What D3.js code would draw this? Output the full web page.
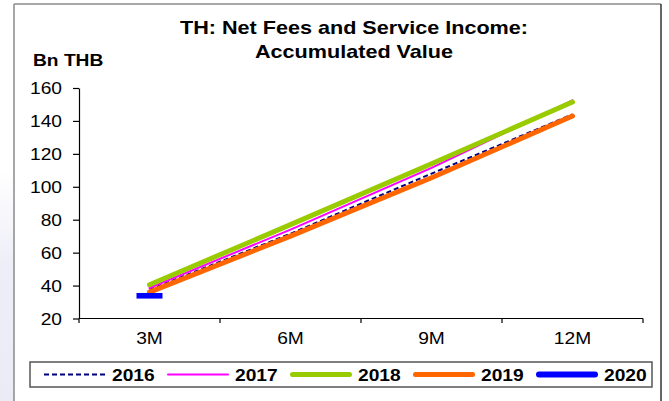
<!DOCTYPE html>
<html>
<head>
<meta charset="utf-8">
<script src="https://cdn.jsdelivr.net/npm/d3@7"></script>
<style>
  html, body { margin: 0; padding: 0; background: #fff; }
  svg { display: block; }
  text { font-family: "Liberation Sans", Arial, sans-serif; fill: #000; }
</style>
</head>
<body>
<svg id="chart" width="669" height="401"></svg>
<script>
// Accumulated net fees and service income (Bn THB) by quarter-end
const categories = ["3M", "6M", "9M", "12M"];
const years = ["2016", "2017", "2018", "2019", "2020"];
const v2016 = [37.5, 71.5, 108, 144];
const v2017 = [38.5, 74, 111.5, 152.5];
const v2018 = [40.5, 77, 114, 151.5];
const v2019 = [36, 70, 105.5, 143];
const v2020 = [33.8];
const yTicks = [20, 40, 60, 80, 100, 120, 140, 160];

const seriesValues = [v2016, v2017, v2018, v2019, v2020];
const seriesStyle = [
  { color: "#000080", width: 2,   dash: "5,3" },
  { color: "#FF00FF", width: 2,   dash: null },
  { color: "#99CC00", width: 5,   dash: null },
  { color: "#FF6600", width: 5,   dash: null },
  { color: "#0000FF", width: 6,   dash: null }
];

const SX = 1.2; // glyphs are drawn wide
const svg = d3.select("#chart");

// faint lavender backdrop at the far left
const defs = svg.append("defs");
const grad = defs.append("linearGradient").attr("id", "lav")
  .attr("x1", 0).attr("y1", 0).attr("x2", 0).attr("y2", 1);
grad.append("stop").attr("offset", "0%").attr("stop-color", "#eeeef8").attr("stop-opacity", 0);
grad.append("stop").attr("offset", "40%").attr("stop-color", "#eeeef8").attr("stop-opacity", 1);
grad.append("stop").attr("offset", "100%").attr("stop-color", "#ebebf6").attr("stop-opacity", 1);
svg.append("rect").attr("x", 0).attr("y", 170).attr("width", 14).attr("height", 231)
  .attr("fill", "url(#lav)");

// outer frame
svg.append("line").attr("x1", 14).attr("y1", 4).attr("x2", 661).attr("y2", 4)
  .attr("stroke", "#8a8a8a").attr("stroke-width", 1.5);
svg.append("line").attr("x1", 14).attr("y1", 4).attr("x2", 14).attr("y2", 401)
  .attr("stroke", "#8a8a8a").attr("stroke-width", 1.5);
svg.append("line").attr("x1", 661).attr("y1", 4).attr("x2", 661).attr("y2", 401)
  .attr("stroke", "#333").attr("stroke-width", 1.5);

function wideText(parent, x, y, str, size, weight, anchor) {
  return parent.append("text")
    .attr("transform", `translate(${x},${y}) scale(${SX},1)`)
    .attr("text-anchor", anchor || "start")
    .style("font-size", size + "px")
    .style("font-weight", weight || "normal")
    .text(str);
}

// titles
wideText(svg, 354, 34, "TH: Net Fees and Service Income:", 18, "bold", "middle");
wideText(svg, 354, 58, "Accumulated Value", 18, "bold", "middle");
wideText(svg, 33, 66, "Bn THB", 16, "bold", "start");

// scales
const x = d3.scaleBand().domain(categories).range([79, 643]).padding(0);
const y = d3.scaleLinear().domain([20, 160]).range([318.5, 88]);
const cx = c => x(c) + x.bandwidth() / 2;

// y axis
const gy = svg.append("g").attr("transform", "translate(79,0)")
  .call(d3.axisLeft(y).tickValues(yTicks).tickSize(6).tickSizeOuter(0).tickFormat(d3.format("d")));
gy.select(".domain").attr("stroke", "#000").attr("stroke-width", 1.2);
gy.selectAll(".tick line").attr("stroke", "#000").attr("stroke-width", 1.2);
gy.selectAll(".tick text")
  .attr("x", 0).attr("dy", "0.36em")
  .attr("transform", `translate(-17,0) scale(${SX},1)`)
  .attr("text-anchor", "end")
  .style("font-size", "16px")
  .style("font-family", "'Liberation Sans', Arial, sans-serif")
  .attr("fill", "#000");

// x axis with ticks on the band edges
const gx = svg.append("g").attr("transform", "translate(0,318.5)");
gx.append("line").attr("x1", 79).attr("x2", 643).attr("y1", 0).attr("y2", 0)
  .attr("stroke", "#000").attr("stroke-width", 1.2);
const edges = categories.map(c => x(c)).concat([x(categories[categories.length - 1]) + x.bandwidth()]);
gx.selectAll("line.edge").data(edges).join("line").attr("class", "edge")
  .attr("x1", d => d).attr("x2", d => d).attr("y1", 0).attr("y2", 4.5)
  .attr("stroke", "#000").attr("stroke-width", 1.2);
categories.forEach(c => wideText(gx, cx(c), 25, c, 16, "normal", "middle"));

// series lines
const line = d3.line().x((d, i) => cx(categories[i])).y(d => y(d));
seriesValues.forEach((vals, k) => {
  const st = seriesStyle[k];
  if (vals.length > 1) {
    svg.append("path").datum(vals)
      .attr("d", line)
      .attr("fill", "none")
      .attr("stroke", st.color)
      .attr("stroke-width", st.width)
      .attr("stroke-linecap", st.dash ? "butt" : "round")
      .attr("stroke-linejoin", "round")
      .attr("stroke-dasharray", st.dash);
  } else {
    // single observation shown as a dash marker
    svg.append("rect")
      .attr("x", cx(categories[0]) - 13)
      .attr("y", y(vals[0]) - 2.8)
      .attr("width", 26).attr("height", 5.6)
      .attr("fill", st.color);
  }
});

// legend
const lg = svg.append("g");
lg.append("rect").attr("x", 30).attr("y", 362).attr("width", 622).attr("height", 25)
  .attr("fill", "#fff").attr("stroke", "#555").attr("stroke-width", 1.5);
years.forEach((yr, k) => {
  const st = seriesStyle[k];
  const x0 = 44 + k * 123;
  lg.append("line")
    .attr("x1", x0 + (st.dash ? 0 : st.width / 2)).attr("x2", x0 + 62 - (st.dash ? 0 : st.width / 2))
    .attr("y1", 374.5).attr("y2", 374.5)
    .attr("stroke", st.color).attr("stroke-width", st.width)
    .attr("stroke-linecap", st.dash ? "butt" : "round")
    .attr("stroke-dasharray", st.dash);
  wideText(lg, x0 + 68, 380.5, yr, 16, "bold", "start");
});
</script>
</body>
</html>
